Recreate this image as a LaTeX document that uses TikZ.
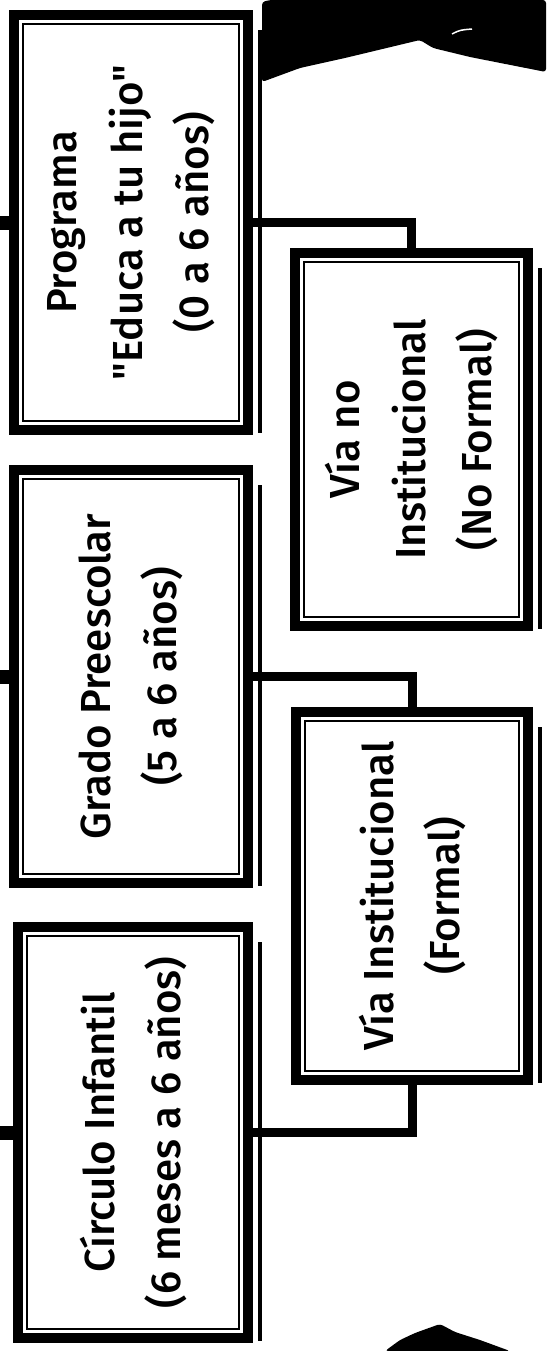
\documentclass[tikz,border=0pt]{standalone}
\usepackage{fontspec}
\setmainfont{Fira Sans}[UprightFont={* Medium}, Ligatures=TeXOff]

\begin{document}
\begin{tikzpicture}[
    x=1pt, y=-1pt,
    box/.style={
        draw,
        line width=10pt,
        inner sep=0pt,
        outer sep=0pt
    },
    innerframe/.style={line width=1.6pt},
    shadowline/.style={line width=4pt},
    link/.style={line width=9pt},
    stub/.style={line width=14pt},
    txt/.style={
        rotate=90,
        align=center,
        font=\fontsize{42}{66}\selectfont
    }
]
    \useasboundingbox (0,0) rectangle (546,1351);
    \coordinate (leftedge) at (0,0);

    % Left column
    \node[box, minimum width=234pt, minimum height=415pt] (prog) at (131,222.5) {};
    \node[txt] (progtxt) at (prog) {Programa\\"Educa a tu hijo"\\(0 a 6 años)};

    \node[box, minimum width=234pt, minimum height=413pt] (grado) at (131,676.5) {};
    \node[txt] (gradotxt) at (grado) {Grado Preescolar\\(5 a 6 años)};

    \node[box, minimum width=230pt, minimum height=411pt] (circ) at (133,1132.5) {};
    \node[txt] (circtxt) at (circ) {Círculo Infantil\\(6 meses a 6 años)};

    % Right column
    \node[box, minimum width=233pt, minimum height=373pt] (viano) at (411.5,439.5) {};
    \node[txt] (vianotxt) at (viano) {Vía no\\Institucional\\(No Formal)};

    \node[box, minimum width=232pt, minimum height=368pt] (viains) at (412,896) {};
    \node[txt] (viainstxt) at (viains) {Vía Institucional\\(Formal)};

    % Frames and shadows
    \foreach \b in {prog, grado, circ, viano, viains} {
        \draw[innerframe] ([shift={(9,9)}]\b.north west) rectangle ([shift={(-9,-9)}]\b.south east);
        \draw[shadowline] ([shift={(12,15)}]\b.north east) -- ([shift={(12,3)}]\b.south east);
    }

    % Connectors
    \foreach \b in {prog, grado, circ}
        \draw[stub] (\b.west) -- (\b.west -| leftedge);

    \draw[link] (prog.east) -| (viano.north);
    \draw[link] (grado.east) -| (viains.north);
    \draw[link] (circ.east) -| (viains.south);

    % Clipart
    \fill[rounded corners=3pt] (262,2) -- (262,82) -- (300,68) -- (345,58) -- (420,40)
        -- (433,48) -- (470,57) -- (546,72) -- (546,0) -- (270,0) -- cycle;
    \draw[white, line width=1.5pt] (452,34) .. controls (460,30) .. (472,29);
    \fill[rounded corners=3pt] (385,1351) -- (400,1340) -- (415,1333) -- (440,1324)
        -- (455,1332) -- (480,1340) -- (510,1351) -- cycle;
\end{tikzpicture}
\end{document}
